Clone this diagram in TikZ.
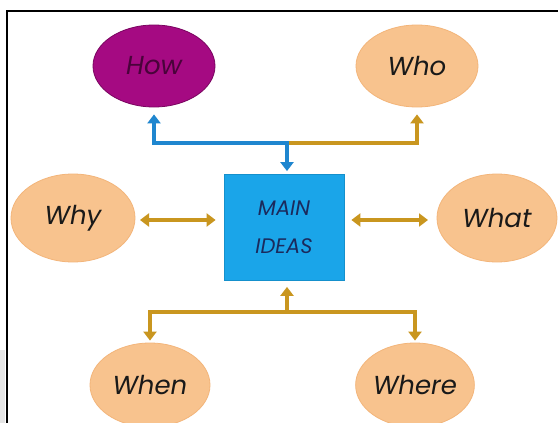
\documentclass[tikz,border=0pt]{standalone}
\usepackage{fontspec}
\setmainfont{Poppins}
\usetikzlibrary{shapes.geometric,arrows.meta}
\definecolor{peach}{HTML}{F8C38E}
\definecolor{peachedge}{HTML}{F3B57A}
\definecolor{howfill}{HTML}{A50A82}
\definecolor{howedge}{HTML}{7A0560}
\definecolor{goldc}{HTML}{C9961F}
\definecolor{bluec}{HTML}{1F86CF}
\definecolor{boxfill}{HTML}{1AA5E9}
\definecolor{boxedge}{HTML}{1590CC}
\definecolor{navy}{HTML}{1B2A5C}
\begin{document}
\begin{tikzpicture}[x=1pt,y=-1pt,
  bubble/.style={ellipse,fill=peach,draw=peachedge,line width=0.8pt,
    minimum width=122pt,minimum height=84pt,inner sep=0pt,
    font=\fontsize{26}{28}\selectfont\itshape,text=black!90},
  mainbox/.style={rectangle,fill=boxfill,draw=boxedge,line width=0.8pt,
    minimum width=120pt,minimum height=106pt,inner sep=0pt,align=center,
    font=\fontsize{21}{38}\selectfont\itshape,text=navy},
  goldarr/.style={draw=goldc,line width=4pt,
    arrows={-Triangle[width=13pt,length=9pt]}},
  bluearr/.style={draw=bluec,line width=4pt}
]
\useasboundingbox (0,0) rectangle (558,423);
\fill[white] (0,0) rectangle (558,423);
\fill[black!10] (0,350) rectangle (5,423);
\draw[black,line width=2.5pt] (6,11) -- (558,11);
\draw[black,line width=2.5pt] (7,10) -- (7,423);

\node[bubble,fill=howfill,draw=howedge,text=howedge!60!black,minimum width=122pt,minimum height=82pt] (how) at (154,66) {How};
\node[bubble,minimum height=82pt] (who) at (417,66) {Who};
\node[bubble,minimum width=124pt,minimum height=88pt] (why) at (73,218) {Why};
\node[bubble,minimum width=120pt,minimum height=88pt] (what) at (497,218) {What};
\node[bubble,minimum width=120pt,minimum height=84pt] (when) at (150,385) {When};
\node[bubble,minimum width=116pt,minimum height=84pt] (where) at (415,385) {Where};
\node[mainbox] (main) at (284,227.5) {MAIN\\IDEAS};

\coordinate (jt) at (287,143);
\coordinate (jb) at (287,312);
\coordinate (lw) at (135,220);
\coordinate (rw) at (437,220);

% top connectors
\draw[draw=goldc,line width=4pt,arrows={-Triangle[width=13pt,length=9pt]},shorten >=7pt] (jt) -| (who.south);
\draw[bluearr,arrows={Triangle[width=13pt,length=9pt]-Triangle[width=13pt,length=9pt]},shorten <=7pt,shorten >=3pt]
  (how.south) |- (jt) -- (main.north -| jt);

% side connectors
\draw[goldarr,arrows={Triangle[width=13pt,length=9pt]-Triangle[width=13pt,length=9pt]},shorten <=5pt,shorten >=8pt] (lw) -- (lw -| main.west);
\draw[goldarr,arrows={Triangle[width=13pt,length=9pt]-Triangle[width=13pt,length=9pt]},shorten <=7pt,shorten >=9pt] (rw -| main.east) -- (rw);

% bottom connectors
\draw[goldarr,shorten >=6pt] (jb) -- (main.south -| jb);
\draw[goldarr,arrows={Triangle[width=13pt,length=9pt]-Triangle[width=13pt,length=9pt]},shorten <=2pt,shorten >=2pt]
  (when.north) |- (jb) -| (where.north);
\end{tikzpicture}
\end{document}
